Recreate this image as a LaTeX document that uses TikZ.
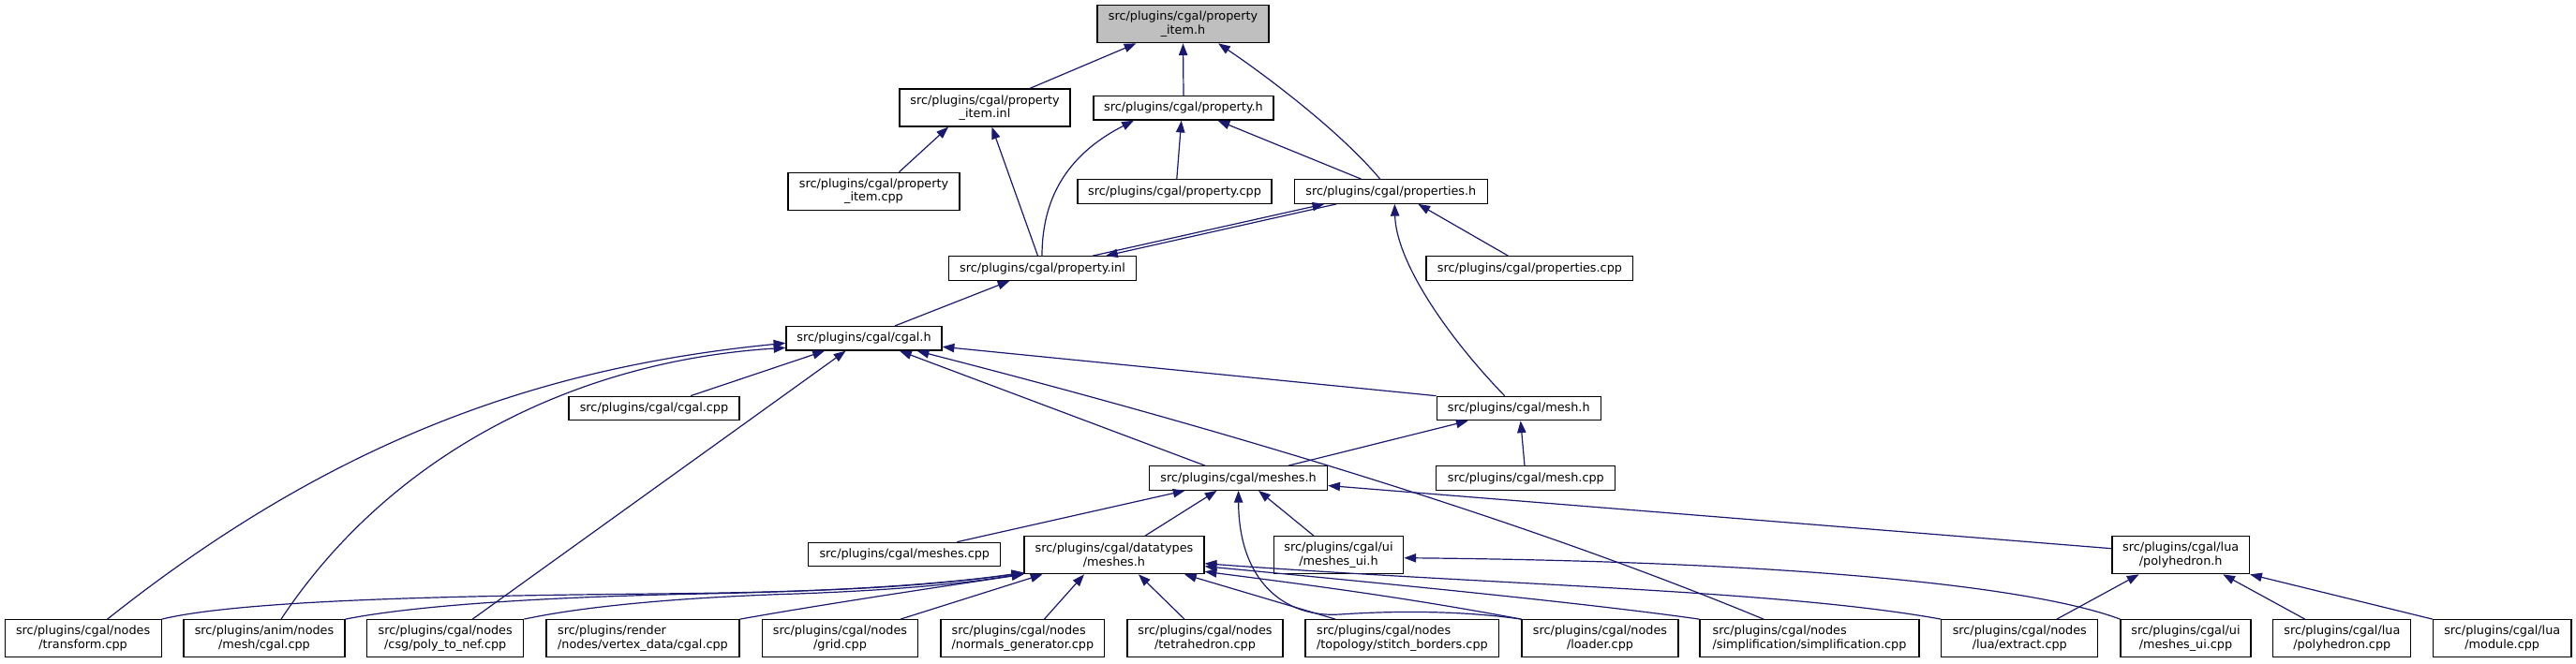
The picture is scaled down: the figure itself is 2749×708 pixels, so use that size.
\documentclass[tikz,border=0pt]{standalone}
\usepackage{fontspec}
\setmainfont{DejaVu Sans}
\usetikzlibrary{arrows.meta,calc}
\definecolor{mb}{HTML}{191970}
\definecolor{topgray}{HTML}{BFBFBF}
\begin{document}
\begin{tikzpicture}[x=0.75pt,y=-0.75pt,
  box/.style={draw=black,line width=0.9pt,fill=white,inner sep=0pt,font=\fontsize{9.6}{11}\selectfont,align=center},
  lbox/.style={box,align=left},
  bw/.style={minimum width=#1*0.75pt},
  one/.style={minimum height=25.5*0.75pt},
  two/.style={minimum height=40*0.75pt},
  e/.style={draw=mb,line width=0.9pt,-{Triangle[length=9.6pt,width=7pt]}}
]
\fill[white] (0,0) rectangle (2749,708);
\useasboundingbox (0,0) rectangle (2749,708);

% nodes
\node[box,two,bw=183,fill=topgray] (A) at (1262.5,25.7) {src/plugins/cgal/property\\\_item.h};
\node[box,two,bw=182] (B) at (1051,115) {src/plugins/cgal/property\\\_item.inl};
\node[box,one,bw=192] (C) at (1263,115.3) {src/plugins/cgal/property.h};
\node[box,two,bw=183] (D) at (932.5,204.3) {src/plugins/cgal/property\\\_item.cpp};
\node[box,one,bw=207] (E) at (1253.5,204.5) {src/plugins/cgal/property.cpp};
\node[box,one,bw=205.6] (F) at (1484.3,204.5) {src/plugins/cgal/properties.h};
\node[box,one,bw=200] (G) at (1112.5,286.5) {src/plugins/cgal/property.inl};
\node[box,one,bw=220.7] (H) at (1632.4,286.5) {src/plugins/cgal/properties.cpp};
\node[box,one,bw=166] (I) at (922,361.3) {src/plugins/cgal/cgal.h};
\node[box,one,bw=182] (J) at (698,436) {src/plugins/cgal/cgal.cpp};
\node[box,one,bw=175] (K) at (1620.7,436) {src/plugins/cgal/mesh.h};
\node[box,one,bw=190] (L) at (1321.6,510.5) {src/plugins/cgal/meshes.h};
\node[box,one,bw=191] (M) at (1628.3,510.5) {src/plugins/cgal/mesh.cpp};
\node[box,one,bw=205] (N) at (965.3,592) {src/plugins/cgal/meshes.cpp};
\node[box,two,bw=192] (O) at (1189,592.7) {src/plugins/cgal/datatypes\\/meshes.h};
\node[box,two,bw=138.5] (P) at (1428.5,592.7) {src/plugins/cgal/ui\\/meshes\_ui.h};
\node[box,two,bw=146.5] (Q) at (2327.2,592.7) {src/plugins/cgal/lua\\/polyhedron.h};

\node[box,two,bw=167] (R1) at (88.6,681.7) {src/plugins/cgal/nodes\\/transform.cpp};
\node[box,two,bw=172] (R2) at (282,681.7) {src/plugins/anim/nodes\\/mesh/cgal.cpp};
\node[box,two,bw=167] (R3) at (475.2,681.7) {src/plugins/cgal/nodes\\/csg/poly\_to\_nef.cpp};
\node[lbox,two,bw=206] (R4) at (686,681.7) {src/plugins/render\\/nodes/vertex\_data/cgal.cpp};
\node[box,two,bw=166.5] (R5) at (896.5,681.7) {src/plugins/cgal/nodes\\/grid.cpp};
\node[lbox,two,bw=174.7] (R6) at (1091.4,681.7) {src/plugins/cgal/nodes\\/normals\_generator.cpp};
\node[box,two,bw=166] (R7) at (1286,681.7) {src/plugins/cgal/nodes\\/tetrahedron.cpp};
\node[lbox,two,bw=206.7] (R8) at (1496.4,681.7) {src/plugins/cgal/nodes\\/topology/stitch\_borders.cpp};
\node[box,two,bw=167] (R9) at (1707.5,681.7) {src/plugins/cgal/nodes\\/loader.cpp};
\node[lbox,two,bw=234] (R10) at (1931,681.7) {src/plugins/cgal/nodes\\/simplification/simplification.cpp};
\node[box,two,bw=167] (R11) at (2155.3,681.7) {src/plugins/cgal/nodes\\/lua/extract.cpp};
\node[box,two,bw=139] (R12) at (2332.5,681.7) {src/plugins/cgal/ui\\/meshes\_ui.cpp};
\node[box,two,bw=147] (R13) at (2499.3,681.7) {src/plugins/cgal/lua\\/polyhedron.cpp};
\node[box,two,bw=147.6] (R14) at (2670.2,681.7) {src/plugins/cgal/lua\\/module.cpp};

% edges
\draw[e] ($(B.north)+(48,0)$) -- ($(A.south)+(-50,0)$);
\draw[e] (C.north) -- (A.south);
\draw[e] ($(F.north)+(-11.6,0)$) .. controls (1430,140) and (1350,80) .. ($(A.south)+(37.5,0)$);
\draw[e] ($(D.north)+(27,0)$) -- ($(B.south)+(-39,0)$);
\draw[e] ($(G.north)+(-5,0)$) -- ($(B.south)+(7.5,0)$);
\draw[e] ($(G.north)+(-0.5,0)$) .. controls (1112,205) and (1145,162) .. ($(C.south)+(-53,0)$);
\draw[e] ($(E.north)+(2.3,0)$) -- ($(C.south)+(-2.3,0)$);
\draw[e] ($(F.north)+(-31.7,0)$) -- ($(C.south)+(36.5,0)$);
\draw[e] ($(G.north)+(53.5,0)$) -- ($(F.south)+(-71,0)$);
\draw[e] ($(F.south)+(-58,0)$) -- ($(G.north)+(67.5,0)$);
\draw[e] ($(H.north)+(-23,0)$) -- ($(F.south)+(29,0)$);
\draw[e] ($(K.north)+(-15,0)$) .. controls (1545,360) and (1490,280) .. ($(F.south)+(4,0)$);
\draw[e] ($(I.north)+(33,0)$) -- ($(G.south)+(-35,0)$);

\draw[e] ($(R1.north)+(26,0)$) .. controls (365,462) and (589,391) .. ($(I.west)+(0,5)$);
\draw[e] ($(R2.north)+(18,0)$) .. controls (420,480) and (620,385) .. ($(I.west)+(0,10)$);
\draw[e] ($(J.north)+(39,0)$) -- ($(I.south)+(-42,0)$);
\draw[e] ($(R3.north)+(29,0)$) -- ($(I.south)+(-19.5,0)$);
\draw[e] ($(L.north)+(-35.6,0)$) -- ($(I.south)+(38,0)$);
\draw[e] ($(R10.north)+(-49,0)$) .. controls (1650,565) and (1350,470) .. ($(I.south)+(56.6,0)$);
\draw[e] (K.north west) -- ($(I.east)+(0,9)$);

\draw[e] ($(L.north)+(53.4,0)$) -- ($(K.south)+(-54,0)$);
\draw[e] ($(M.north)+(-1.3,0)$) -- ($(K.south)+(2,0)$);

\draw[e] ($(N.north)+(56,0)$) -- ($(L.south)+(-57,0)$);
\draw[e] ($(O.north)+(33,0)$) -- ($(L.south)+(-23,0)$);
\draw[e] (R9.north west) .. controls (1560,652) and (1490,652) .. (1430,656) .. controls (1370,660) and (1322,620) .. (L.south);
\draw[e] ($(P.north)+(-26.5,0)$) -- ($(L.south)+(21.4,0)$);
\draw[e] ($(Q.west)+(0,-7)$) -- ($(L.east)+(0,8)$);

\draw[e] (R1.north east) .. controls (260,640) and (500,636) .. (700,634) .. controls (900,632) and (1000,625) .. ($(O.south west)+(0,-2)$);
\draw[e] (R2.north east) .. controls (450,645) and (600,637) .. (750,634) .. controls (900,631) and (1000,624) .. ($(O.south west)+(0,-1.5)$);
\draw[e] (R3.north east) .. controls (620,648) and (720,638) .. (850,634) .. controls (960,630) and (1030,623) .. ($(O.south west)+(0,-1)$);
\draw[e] (R4.north east) .. controls (880,645) and (1000,627) .. (O.south west);
\draw[e] ($(R5.north)+(64.5,0)$) -- ($(O.south)+(-76.5,0)$);
\draw[e] ($(R6.north)+(23,0)$) -- ($(O.south)+(-32,0)$);
\draw[e] ($(R7.north)+(-22,0)$) -- ($(O.south)+(26,0)$);
\draw[e] ($(R8.north)+(-71.4,0)$) -- ($(O.south)+(75,0)$);
\draw[e] (R9.north west) .. controls (1500,638) and (1400,625) .. ($(O.south east)+(0,-3)$);
\draw[e] (R10.north west) .. controls (1700,645) and (1500,625) .. ($(O.east)+(0,12)$);
\draw[e] (R11.north west) .. controls (1900,630) and (1600,625) .. ($(O.east)+(0,9)$);

\draw[e] (R12.north west) .. controls (2180,630) and (1950,600) .. ($(P.east)+(0,3)$);

\draw[e] ($(R11.north)+(39.6,0)$) -- ($(Q.south)+(-44.6,0)$);
\draw[e] ($(R13.north)+(-39.6,0)$) -- ($(Q.south)+(45,0)$);
\draw[e] (R14.north west) -- (Q.south east);
\end{tikzpicture}
\end{document}
